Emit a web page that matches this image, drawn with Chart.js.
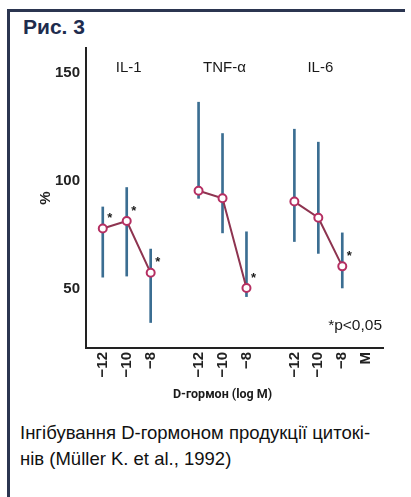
<!DOCTYPE html>
<html>
<head>
<meta charset="utf-8">
<script src="https://cdn.jsdelivr.net/npm/chart.js@4"></script>
<style>
  body { margin: 0; background: #fff; width: 411px; height: 497px; position: relative; overflow: hidden;
         font-family: "Liberation Sans", Arial, sans-serif; }
  #frameTop { position: absolute; left: 7px; top: 9px; width: 398px; height: 3px; background: #2b3550; }
  #frameLeft { position: absolute; left: 7px; top: 9px; width: 3px; height: 488px; background: #2b3550; }
  #fig { position: absolute; left: 23px; top: 15px; font-weight: bold; font-size: 21px; color: #1e2c4e; }
  #wrap { position: absolute; left: 0; top: 0; width: 411px; height: 410px; }
  #cap { position: absolute; left: 20px; top: 420px; font-size: 18.5px; line-height: 26px; color: #111; }
</style>
</head>
<body>
<div id="frameTop"></div>
<div id="frameLeft"></div>
<div id="fig">Рис. 3</div>
<div id="wrap"><canvas id="graph"></canvas></div>
<div id="cap">Інгібування D-гормоном продукції цитокі-<br>нів (Müller K. et al., 1992)</div>
<script>
// x slots: three doses per cytokine, one empty slot between groups, "M" at the end
const xTickLabels = ['−12', '−10', '−8', '', '−12', '−10', '−8', '', '−12', '−10', '−8', 'M'];
const yTicks = [50, 100, 150];
const groups = ['IL-1', 'TNF-α', 'IL-6'];

const il1X = [0, 1, 2];
const il1Mean = [78, 81.5, 57.5];
const il1Low = [55.5, 56, 34.5];
const il1High = [88, 97, 68.5];
const il1Sig = [true, true, true];

const tnfX = [4, 5, 6];
const tnfMean = [95.5, 92, 50.5];
const tnfLow = [92, 76, 46.5];
const tnfHigh = [136.5, 122, 76.5];
const tnfSig = [false, false, true];

const il6X = [8, 9, 10];
const il6Mean = [90.5, 83, 60.5];
const il6Low = [72, 66.5, 50.5];
const il6High = [124, 118, 76];
const il6Sig = [false, false, true];

const series = [
  { name: groups[0], x: il1X, mean: il1Mean, low: il1Low, high: il1High, sig: il1Sig },
  { name: groups[1], x: tnfX, mean: tnfMean, low: tnfLow, high: tnfHigh, sig: tnfSig },
  { name: groups[2], x: il6X, mean: il6Mean, low: il6Low, high: il6High, sig: il6Sig }
];

const datasets = [];
series.forEach(s => {
  datasets.push({
    type: 'line',
    label: s.name,
    data: s.x.map((x, i) => ({ x: x, y: s.mean[i] })),
    borderColor: '#8e3450',
    borderWidth: 2,
    tension: 0,
    pointRadius: 4,
    pointBackgroundColor: '#fff',
    pointBorderColor: '#b52f62',
    pointBorderWidth: 2,
    order: 0,
    sig: s.sig
  });
  datasets.push({
    type: 'bar',
    label: s.name + ' range',
    data: s.x.map((x, i) => ({ x: x, y: [s.low[i], s.high[i]] })),
    backgroundColor: '#3b6e92',
    borderWidth: 0,
    barThickness: 2,
    grouped: false,
    order: 1
  });
});

const font = '"Liberation Sans", Arial, sans-serif';

const extras = {
  id: 'extras',
  afterDatasetsDraw(chart) {
    const ctx = chart.ctx;
    const xs = chart.scales.x;
    const area = chart.chartArea;
    ctx.save();
    ctx.fillStyle = '#1a1a1a';
    ctx.textBaseline = 'middle';
    ctx.textAlign = 'center';
    // group names above each cytokine
    ctx.font = '15px ' + font;
    series.forEach(s => {
      ctx.fillText(s.name, xs.getPixelForValue(s.x[1]) + 2, 68);
    });
    // significance stars
    ctx.font = 'bold 13px ' + font;
    chart.data.datasets.forEach((ds, di) => {
      if (!ds.sig) return;
      const meta = chart.getDatasetMeta(di);
      meta.data.forEach((pt, i) => {
        if (ds.sig[i]) ctx.fillText('*', pt.x + 7, pt.y - 10);
      });
    });
    ctx.textAlign = 'right';
    ctx.font = '15.5px ' + font;
    ctx.fillText('*p<0,05', area.right - 1, area.bottom - 22);
    // x axis title centred under the middle group
    ctx.textAlign = 'center';
    ctx.font = 'bold 12.5px Roboto, ' + font;
    ctx.fillText('D-гормон (log M)', xs.getPixelForValue(tnfX[1]), 395);
    ctx.restore();
  }
};

const config = {
  type: 'line',
  data: { datasets: datasets },
  options: {
    responsive: true,
    maintainAspectRatio: false,
    animation: false,
    layout: { padding: { left: 33, top: 48, right: 28, bottom: 0 } },
    plugins: { legend: { display: false }, tooltip: { enabled: false } },
    scales: {
      x: {
        type: 'linear',
        offset: false,
        min: -0.7,
        max: 11.7,
        grid: { display: false, drawTicks: false },
        border: { display: true, color: '#222', width: 2 },
        afterBuildTicks: axis => { axis.ticks = xTickLabels.map((t, i) => ({ value: i })); },
        afterFit: axis => { axis.height = 62; },
        ticks: {
          autoSkip: false,
          minRotation: 90,
          maxRotation: 90,
          padding: 4,
          color: '#222',
          font: { family: font, size: 15, weight: 'bold' },
          callback: v => xTickLabels[v]
        }
      },
      y: {
        min: 22.7,
        max: 161.6,
        grid: { display: false, drawTicks: false },
        border: { display: true, color: '#222', width: 2 },
        afterBuildTicks: axis => { axis.ticks = yTicks.map(v => ({ value: v })); },
        afterFit: axis => { axis.width = 53; },
        ticks: {
          padding: 6,
          color: '#222',
          font: { family: font, size: 15, weight: 'bold' }
        },
        title: {
          display: true,
          text: '%',
          color: '#222',
          font: { family: font, size: 15, weight: 'bold' }
        }
      }
    }
  },
  plugins: [extras]
};

const myChart = new Chart(document.getElementById('graph'), config);
</script>
</body>
</html>
